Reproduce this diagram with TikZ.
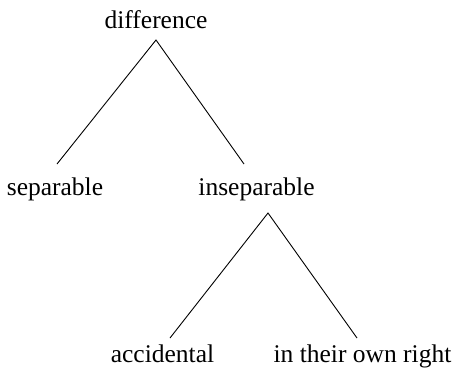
\documentclass[tikz,border=0pt]{standalone}
\usepackage{fontspec}
\setmainfont{Liberation Serif}
\begin{document}
\begin{tikzpicture}[x=1pt,y=-1pt,
  lbl/.style={anchor=base,inner sep=0pt,font=\fontsize{25.5}{30}\selectfont},
  edge/.style={line width=0.9pt}]
\useasboundingbox (0,0) rectangle (455,369);
\node[lbl] (difference) at (156,29) {difference};
\node[lbl] (separable) at (55,195) {separable};
\node[lbl] (inseparable) at (256.5,195) {inseparable};
\node[lbl] (accidental) at (162.5,362) {accidental};
\node[lbl] (ownright) at (362.5,362) {in their own right};
\draw[edge] ([shift={(2,-31)}]separable.base) -- ([shift={(0,11)}]difference.base) -- ([shift={(-12.5,-31)}]inseparable.base);
\draw[edge] ([shift={(7.5,-24)}]accidental.base) -- ([shift={(11.5,18)}]inseparable.base) -- ([shift={(-5.5,-24)}]ownright.base);
\end{tikzpicture}
\end{document}
